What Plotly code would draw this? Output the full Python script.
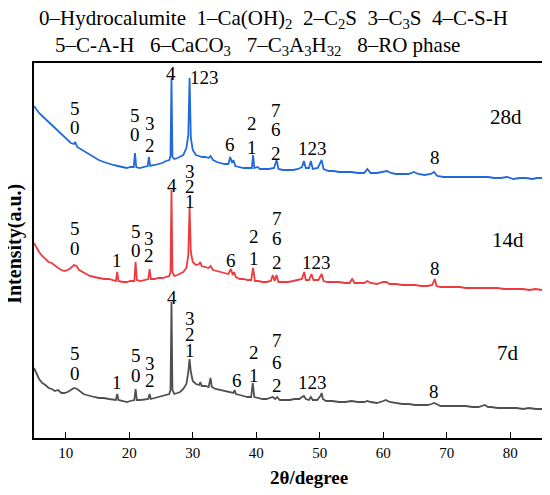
import plotly.graph_objects as go

# XRD patterns, 2theta in degrees, intensity in a.u.
x_7d = [5.0, 5.4, 5.8, 6.3, 6.8, 7.3, 7.8, 8.3, 8.8, 9.3, 9.8, 10.3, 10.8, 11.3, 11.8, 12.3, 12.8, 13.3, 13.8,
        14.5, 15.2, 16.0, 16.8, 17.5, 17.9, 18.1, 18.3, 19.0, 19.6, 20.2, 20.8, 21.0, 21.2, 21.8, 22.5, 23.0,
        23.2, 23.4, 24.0, 24.6, 25.2, 25.8, 26.3, 26.5, 26.65, 26.8, 27.1, 27.6, 28.0, 28.5, 29.0, 29.3, 29.5,
        29.7, 30.0, 30.5, 31.0, 31.2, 31.4, 32.0, 32.5, 32.8, 33.0, 33.6, 34.2, 34.8, 35.4, 36.0, 36.4, 36.6,
        36.8, 37.4, 38.0, 38.6, 39.2, 39.45, 39.7, 40.3, 41.0, 41.6, 42.3, 42.6, 43.0, 43.3, 43.7, 44.5, 45.3,
        46.0, 46.8, 47.2, 47.5, 47.8, 48.3, 48.6, 48.9, 49.6, 50.1, 50.3, 50.5, 51.0, 52.0, 53.0, 54.0, 55.0,
        56.0, 57.0, 57.5, 58.0, 59.0, 60.0, 60.4, 61.0, 62.0, 63.0, 64.0, 65.0, 66.0, 67.0, 67.6, 68.0, 68.4,
        69.0, 70.0, 71.0, 72.0, 73.0, 74.0, 75.0, 76.0, 76.5, 77.0, 78.0, 79.0, 80.0, 81.0, 82.0, 83.0, 84.0, 85.0]
i_7d = [70, 64, 59, 55, 53, 50, 49, 47, 48, 45, 45, 46, 48, 50, 49, 46, 44, 43, 42,
        41, 40, 40, 39, 38, 38, 44, 38, 37, 36, 37, 38, 49, 38, 38, 39, 39,
        44, 39, 40, 41, 42, 43, 44, 48, 136, 48, 44, 45, 46, 49, 54, 66, 79,
        66, 57, 54, 53, 56, 52, 52, 51, 60, 51, 49, 48, 47, 46, 45, 45, 48,
        44, 43, 42, 41, 41, 55, 41, 40, 39, 39, 40, 41, 39, 41, 38, 38, 38,
        39, 39, 41, 42, 39, 38, 41, 38, 38, 42, 45, 39, 37, 37, 36, 36, 37,
        36, 36, 37, 36, 35, 37, 38, 36, 35, 34, 34, 33, 33, 33, 34, 35, 34,
        32, 32, 32, 32, 32, 31, 31, 33, 31, 31, 30, 30, 30, 30, 29, 30, 29, 29]

x_14d = [5.0, 5.4, 5.8, 6.3, 6.8, 7.3, 7.8, 8.3, 8.8, 9.3, 9.8, 10.3, 10.8, 11.3, 11.7, 12.1, 12.6, 13.2, 13.8,
         14.5, 15.2, 16.0, 16.8, 17.5, 17.9, 18.1, 18.3, 19.0, 19.6, 20.2, 20.8, 21.0, 21.2, 21.8, 22.5, 23.0,
         23.2, 23.4, 24.0, 24.6, 25.2, 25.8, 26.3, 26.5, 26.65, 26.8, 27.1, 27.6, 28.0, 28.5, 29.0, 29.3, 29.5,
         29.7, 30.0, 30.5, 31.0, 31.2, 31.4, 32.0, 32.5, 32.8, 33.2, 33.8, 34.4, 35.0, 35.6, 36.0, 36.3, 36.5,
         36.8, 37.4, 38.0, 38.6, 39.2, 39.5, 39.8, 40.3, 41.0, 41.6, 42.3, 42.6, 42.9, 43.2, 43.5, 44.2, 45.0,
         45.8, 46.5, 47.2, 47.55, 47.8, 48.3, 48.7, 49.0, 49.8, 50.3, 50.6, 51.2, 52.0, 53.0, 54.0, 54.7, 55.1,
         55.5, 56.3, 57.0, 57.5, 58.0, 59.0, 60.0, 60.5, 61.0, 62.0, 63.0, 64.0, 65.0, 66.0, 67.0, 67.7, 68.1,
         68.4, 69.0, 70.0, 71.0, 72.0, 73.0, 74.0, 75.0, 76.0, 77.0, 78.0, 79.0, 80.0, 81.0, 82.0, 83.0, 84.0, 85.0]
i_14d = [75, 70, 66, 62, 59, 56, 55, 52, 50, 48, 47, 48, 50, 53, 52, 48, 46, 44, 42,
         41, 40, 39, 39, 38, 37, 46, 37, 36, 36, 37, 37, 56, 38, 37, 38, 39,
         49, 39, 39, 40, 40, 41, 42, 46, 128, 46, 42, 43, 44, 46, 50, 63, 111,
         66, 56, 53, 54, 56, 52, 51, 50, 52, 48, 47, 46, 45, 44, 49, 43, 46,
         41, 39, 39, 38, 38, 50, 37, 37, 36, 36, 37, 43, 37, 43, 36, 36, 36,
         37, 38, 39, 46, 38, 38, 44, 38, 38, 44, 37, 36, 36, 36, 35, 35, 39,
         35, 35, 35, 37, 35, 34, 36, 36, 34, 34, 33, 33, 33, 32, 32, 33, 39,
         32, 31, 31, 31, 31, 30, 30, 30, 30, 30, 30, 29, 29, 29, 29, 28, 29, 28]

x_28d = [5.0, 5.4, 5.8, 6.3, 6.8, 7.3, 7.8, 8.3, 8.8, 9.3, 9.8, 10.3, 10.8, 11.3, 11.5, 11.8, 12.3, 12.8, 13.3,
         13.8, 14.5, 15.2, 16.0, 16.8, 17.5, 18.2, 19.0, 19.6, 20.2, 20.7, 20.9, 21.1, 21.6, 22.2, 22.9, 23.1,
         23.3, 24.0, 24.6, 25.2, 25.8, 26.3, 26.5, 26.65, 26.8, 27.1, 27.6, 28.0, 28.5, 29.0, 29.3, 29.5, 29.7,
         30.0, 30.5, 31.0, 31.5, 32.0, 32.5, 32.8, 33.2, 33.8, 34.4, 35.0, 35.6, 35.9, 36.2, 36.4, 36.7, 37.3,
         38.0, 38.7, 39.3, 39.5, 39.7, 40.2, 40.6, 41.3, 42.0, 42.8, 43.2, 43.5, 44.2, 45.0, 45.8, 46.6, 47.2,
         47.5, 47.8, 48.3, 48.6, 48.9, 49.7, 50.3, 50.6, 51.4, 52.2, 53.0, 54.0, 55.0, 56.0, 57.0, 57.5, 58.0,
         59.0, 60.0, 60.6, 61.2, 62.0, 63.0, 64.0, 64.8, 65.5, 66.5, 67.5, 68.0, 68.5, 69.5, 70.5, 71.5, 72.5,
         73.5, 74.5, 75.5, 76.5, 77.5, 78.5, 79.5, 80.5, 81.5, 82.5, 83.5, 84.2, 85.0]
i_28d = [102, 98, 95, 92, 89, 87, 84, 80, 77, 74, 71, 68, 65, 64, 66, 61, 59, 57, 55,
         53, 51, 48, 46, 44, 43, 42, 41, 40, 41, 41, 55, 41, 40, 41, 42, 51,
         42, 43, 44, 45, 47, 48, 52, 130, 51, 49, 50, 51, 53, 60, 73, 130, 70,
         58, 53, 52, 51, 51, 50, 52, 48, 46, 45, 44, 44, 51, 45, 48, 42, 41,
         40, 40, 40, 53, 40, 41, 39, 39, 39, 40, 48, 39, 38, 38, 38, 39, 41,
         47, 40, 40, 47, 39, 40, 48, 39, 37, 37, 36, 36, 36, 35, 35, 39, 35,
         35, 36, 37, 35, 34, 34, 34, 36, 34, 33, 34, 36, 32, 31, 31, 31, 31,
         31, 31, 31, 31, 30, 30, 31, 29, 30, 30, 29, 30, 30]

ages = ['7d', '14d', '28d']
offsets = [0, 120, 230]
colors = ['#505050', '#ee3a3e', '#2269dc']

fig = go.Figure()
for xs, ys, off, col, name in zip([x_7d, x_14d, x_28d], [i_7d, i_14d, i_28d], offsets, colors, ages):
    fig.add_trace(go.Scatter(x=xs, y=[v + off for v in ys], mode='lines', name=name,
                             line=dict(color=col, width=1.8), showlegend=False))

serif = 'Liberation Serif, Times New Roman, serif'

# peak labels: (2theta, height, text)
peak_labels = [
    # 28d
    (11.5, 330, '5'), (11.5, 311, '0'), (20.9, 323, '5'), (20.9, 304, '0'),
    (23.2, 315, '3'), (23.2, 293, '2'), (26.6, 365, '4'), (31.8, 361, '123'),
    (35.8, 294, '6'), (39.4, 315, '2'), (39.4, 291, '1'),
    (43.1, 328, '7'), (43.1, 309, '6'), (43.1, 285, '2'), (48.9, 290, '123'), (68.2, 281, '8'),
    # 14d
    (11.5, 210, '5'), (11.5, 190, '0'), (18.1, 178, '1'), (21.0, 207, '5'), (21.0, 188, '0'),
    (23.1, 200, '3'), (23.1, 183, '2'), (26.8, 253, '4'),
    (29.5, 267, '3'), (29.5, 252, '2'), (29.5, 237, '1'), (36.0, 178, '6'),
    (39.6, 202, '2'), (39.6, 180, '1'), (43.2, 220, '7'), (43.2, 200, '6'), (43.2, 176, '2'),
    (49.5, 176, '123'), (68.2, 170, '8'),
    # 7d
    (11.5, 85, '5'), (11.5, 65, '0'), (18.1, 56, '1'), (21.0, 83, '5'), (21.0, 63, '0'),
    (23.2, 75, '3'), (23.2, 58, '2'), (26.8, 141, '4'),
    (29.5, 120, '3'), (29.5, 104, '2'), (29.5, 88, '1'), (36.9, 58, '6'),
    (39.6, 86, '2'), (39.6, 63, '1'), (43.2, 98, '7'), (43.2, 76, '6'), (43.2, 53, '2'),
    (48.9, 56, '123'), (68.0, 47, '8'),
]
for px, py, txt in peak_labels:
    fig.add_annotation(x=px, y=py, text=txt, showarrow=False, xanchor='center', yanchor='middle',
                       font=dict(family=serif, size=19, color='black'))

for px, py, txt in [(79.4, 321, '28d'), (79.6, 198, '14d'), (79.6, 85, '7d')]:
    fig.add_annotation(x=px, y=py, text=txt, showarrow=False, xanchor='center', yanchor='middle',
                       font=dict(family=serif, size=21, color='black'))

# phase key above the plot
sp1 = '&nbsp; '
sp2 = '&nbsp;&nbsp; '
fig.add_annotation(xref='paper', yref='paper', x=0.006, y=1.116, showarrow=False,
                   xanchor='left', yanchor='middle',
                   text=sp1.join(['0\u2013Hydrocalumite', '1\u2013Ca(OH)<sub>2</sub>', '2\u2013C<sub>2</sub>S',
                                  '3\u2013C<sub>3</sub>S', '4\u2013C-S-H']),
                   font=dict(family=serif, size=21, color='black'))
fig.add_annotation(xref='paper', yref='paper', x=0.037, y=1.046, showarrow=False,
                   xanchor='left', yanchor='middle',
                   text=sp2.join(['5\u2013C-A-H', '6\u2013CaCO<sub>3</sub>',
                                  '7\u2013C<sub>3</sub>A<sub>3</sub>H<sub>32</sub>', '8\u2013RO phase']),
                   font=dict(family=serif, size=21, color='black'))

fig.add_annotation(xref='paper', yref='paper', x=0.541, y=-0.104, showarrow=False, yanchor='middle',
                   text='<b>2\u03b8/degree</b>', font=dict(family=serif, size=19, color='black'))
fig.add_annotation(xref='paper', yref='paper', x=-0.04, y=0.517, showarrow=False, textangle=-90,
                   xanchor='center', yanchor='middle',
                   text='<b>Intensity(a.u.)</b>', font=dict(family=serif, size=20, color='black'))

# the page body adds an 8px margin, so the figure is drawn 8px smaller
fig.update_layout(
    width=542, height=487,
    margin=dict(l=26, r=8, t=55, b=57),
    plot_bgcolor='white', paper_bgcolor='white',
    font=dict(family=serif, color='black'),
    xaxis=dict(range=[5, 85], tickvals=[10, 20, 30, 40, 50, 60, 70, 80], ticks='inside', ticklen=6,
               tickwidth=1.2, tickcolor='black', showline=True, linecolor='black', linewidth=1.5,
               mirror=True, showgrid=False, zeroline=False, automargin=False,
               tickfont=dict(family=serif, size=15)),
    yaxis=dict(range=[0, 375], showticklabels=False, ticks='', showline=True, linecolor='black',
               linewidth=1.5, mirror=True, showgrid=False, zeroline=False, automargin=False),
)

fig.write_html("out.html")
